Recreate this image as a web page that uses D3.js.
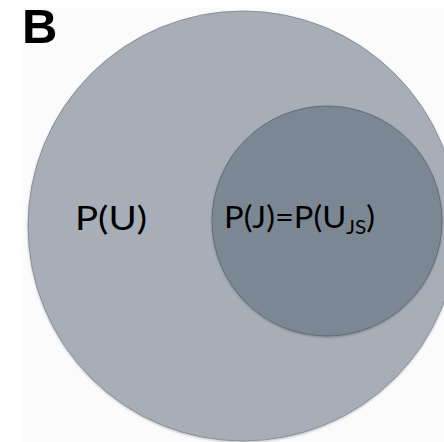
<!DOCTYPE html>
<html><head><meta charset="utf-8">
<script src="https://cdn.jsdelivr.net/npm/d3@7"></script>
<style>html,body{margin:0;padding:0;background:#fff;overflow:hidden}</style>
</head><body>
<svg id="c" width="444" height="442"></svg>
<script>
// Data: set names and relative set sizes (areas)
const setNames = ["U", "J"];
const setLabels = ["P(U)", "P(J)=P(U_JS)"];
const setSizes = [1.0, 0.286];
const panelLabel = "B";

const W = 444, H = 442;
const svg = d3.select("#c");

svg.append("rect").attr("x", 22).attr("y", 8).attr("width", W - 22).attr("height", H - 8).attr("fill", "#fbfbfb");

const r = d3.scaleSqrt().domain([0, 1]).range([0, 215]);

// layout (positions)
const layout = {
  U: {cx: 243, cy: 226, fill: "#a7aeb8", stroke: "#7d848e"},
  J: {cx: 327, cy: 221, fill: "#7c8794", stroke: "#5a636e"}
};

const defs = svg.append("defs");
const f = defs.append("filter").attr("id", "sh").attr("x", "-10%").attr("y", "-10%").attr("width", "120%").attr("height", "120%");
f.append("feDropShadow").attr("dx", 0).attr("dy", 1).attr("stdDeviation", 1).attr("flood-color", "#000").attr("flood-opacity", 0.25);

const g = svg.append("g");
g.selectAll("circle").data(setNames).join("circle")
  .attr("cx", d => layout[d].cx)
  .attr("cy", d => layout[d].cy)
  .attr("r", (d, i) => r(setSizes[i]))
  .attr("fill", d => layout[d].fill)
  .attr("stroke", d => layout[d].stroke)
  .attr("stroke-width", 0.8)
  .attr("filter", "url(#sh)");

const font = "Lato, 'Open Sans', sans-serif";

// P(U)
const t1 = svg.append("text").attr("x", 75).attr("y", 230)
  .attr("font-family", font).attr("font-size", 33).attr("fill", "#000")
  .text(setLabels[0]);
t1.attr("textLength", 72).attr("lengthAdjust", "spacingAndGlyphs");

// P(J)=P(U_JS)
const parts = setLabels[1].split("_");
const t2 = svg.append("text").attr("x", 224).attr("y", 228)
  .attr("font-family", font).attr("font-size", 30).attr("fill", "#000");
t2.append("tspan").text(parts[0]);
t2.append("tspan").attr("font-size", 19).attr("dy", 6).text(parts[1].slice(0, 2));
t2.append("tspan").attr("dy", -6).text(parts[1].slice(2) || ")");
t2.attr("textLength", 151).attr("lengthAdjust", "spacingAndGlyphs");

svg.append("text").attr("x", 22).attr("y", 43)
  .attr("font-family", "'Liberation Sans', Arial, sans-serif").attr("font-weight", "bold")
  .attr("font-size", 49).attr("fill", "#000").text(panelLabel);
</script>
</body></html>
